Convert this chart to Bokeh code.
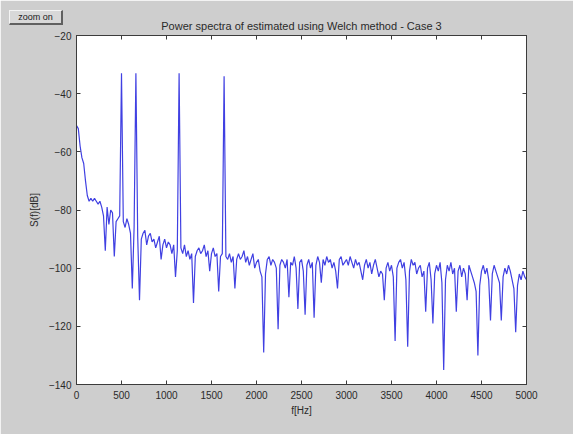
import numpy as np
from bokeh.plotting import figure
from bokeh.models import LinearAxis, FixedTicker, Range1d, Div
from bokeh.layouts import column
from bokeh.embed import file_html
from bokeh.resources import INLINE

# ---------------- data ----------------
title_text = "Power spectra of estimated using Welch method - Case 3"
x_label = "f[Hz]"
y_label = "S(f)[dB]"
button_text = "zoom on"

freq_step_hz = 20
psd_db = [
    # 0 - 180 Hz
    -51, -52, -58, -62, -64, -70, -75, -77, -76, -77,
    # 200 - 380
    -76, -77, -78, -77, -79, -82, -94, -79, -85, -80,
    # 400 - 580
    -81, -96, -84, -83, -82, -33, -84, -86, -83, -85,
    # 600 - 780
    -88, -107, -86, -33, -89, -111, -90, -88, -87, -92,
    # 800 - 980
    -89, -88, -91, -90, -93, -91, -89, -97, -92, -90,
    # 1000 - 1180
    -93, -91, -92, -95, -92, -103, -94, -33, -93, -95,
    # 1200 - 1380
    -92, -96, -94, -97, -95, -112, -96, -94, -93, -95,
    # 1400 - 1580
    -94, -92, -96, -94, -101, -95, -93, -96, -95, -108,
    # 1600 - 1780
    -96, -95, -34, -96, -97, -95, -98, -96, -107, -97,
    # 1800 - 1980
    -95, -97, -96, -94, -98, -96, -99, -97, -95, -100,
    # 2000 - 2180
    -98, -97, -101, -103, -129, -102, -97, -96, -99, -97,
    # 2200 - 2380
    -98, -100, -121, -99, -97, -98, -100, -97, -110, -98,
    # 2400 - 2580
    -99, -96, -100, -114, -98, -97, -101, -116, -99, -97,
    # 2600 - 2780
    -100, -98, -117, -99, -96, -98, -105, -97, -99, -96,
    # 2800 - 2980
    -98, -97, -100, -98, -101, -107, -97, -96, -99, -98,
    # 3000 - 3180
    -97, -99, -96, -98, -100, -97, -99, -98, -101, -104,
    # 3200 - 3380
    -99, -97, -100, -98, -102, -99, -97, -100, -103, -101,
    # 3400 - 3580
    -102, -111, -100, -98, -101, -99, -103, -125, -100, -98,
    # 3600 - 3780
    -97, -100, -98, -104, -127, -101, -97, -99, -98, -102,
    # 3800 - 3980
    -100, -99, -103, -101, -115, -100, -98, -104, -119, -102,
    # 4000 - 4180
    -99, -101, -98, -105, -135, -104, -99, -101, -98, -102,
    # 4200 - 4380
    -100, -115, -101, -99, -103, -100, -102, -111, -99, -101,
    # 4400 - 4580
    -103, -105, -108, -130, -106, -101, -99, -102, -100, -104,
    # 4600 - 4780
    -118, -102, -99, -101, -103, -105, -118, -103, -100, -102,
    # 4800 - 5000
    -99, -101, -104, -107, -122, -106, -102, -104, -101, -103, -104,
]
freq_hz = [i * freq_step_hz for i in range(len(psd_db))]

x_ticks = [0, 500, 1000, 1500, 2000, 2500, 3000, 3500, 4000, 4500, 5000]
y_ticks = [-140, -120, -100, -80, -60, -40, -20]

# ---------------- figure ----------------
W, H = 573, 434
fig_bg = "#cecece"
ink = "#2a2a2a"
font = "Liberation Sans"

p = figure(
    width=W, height=H,
    output_backend="svg", toolbar_location=None,
    x_range=Range1d(0, 5000), y_range=Range1d(-140, -20),
    min_border_left=76, min_border_right=47,
    min_border_top=35, min_border_bottom=50,
    background_fill_color="white", border_fill_color=fig_bg,
    outline_line_color="#3c3c3c", outline_line_width=1,
)
p.grid.visible = False

p.title.text = title_text
p.title.align = "center"
p.title.text_font = font
p.title.text_font_size = "11px"
p.title.text_font_style = "normal"
p.title.text_color = ink
p.title.standoff = 8

p.line(freq_hz, psd_db, line_color="#4040e2", line_width=1.2)

def style_axis(ax, ticks, show_labels):
    ax.ticker = FixedTicker(ticks=ticks)
    ax.major_tick_in = 4
    ax.major_tick_out = 0
    ax.minor_tick_line_color = None
    ax.axis_line_color = "#3c3c3c"
    ax.major_tick_line_color = "#3c3c3c"
    ax.major_label_text_font = font
    ax.major_label_text_font_size = "10px"
    ax.major_label_text_color = ink if show_labels else None
    ax.axis_label_text_font = font
    ax.axis_label_text_font_size = "10px"
    ax.axis_label_text_font_style = "normal"
    ax.axis_label_text_color = ink

style_axis(p.xaxis[0], x_ticks, True)
style_axis(p.yaxis[0], y_ticks, True)
p.xaxis[0].axis_label = x_label
p.yaxis[0].axis_label = y_label
p.xaxis[0].major_label_standoff = 6
p.xaxis[0].axis_label_standoff = 3
p.yaxis[0].major_label_standoff = 5
p.yaxis[0].axis_label_standoff = 6

top_ax = LinearAxis()
right_ax = LinearAxis()
style_axis(top_ax, x_ticks, False)
style_axis(right_ax, y_ticks, False)
top_ax.major_label_standoff = 0
right_ax.major_label_standoff = 0
p.add_layout(top_ax, "above")
p.add_layout(right_ax, "right")

# "zoom on" push button floating over the figure's top-left corner
btn = Div(
    text=button_text,
    styles={
        "position": "absolute", "left": "4px", "top": "5px", "z-index": "10",
        "width": "54px", "height": "15px", "box-sizing": "border-box",
        "background-color": "#d8d8d8",
        "border-top": "1px solid #f4f4f4", "border-left": "1px solid #f4f4f4",
        "border-bottom": "2px solid #606060", "border-right": "2px solid #606060",
        "font-family": "Liberation Sans", "font-size": "9px", "color": "#202020",
        "line-height": "12px", "text-align": "center",
    },
)

layout = column(p, btn)
open("out.html", "w").write(file_html(layout, INLINE))
